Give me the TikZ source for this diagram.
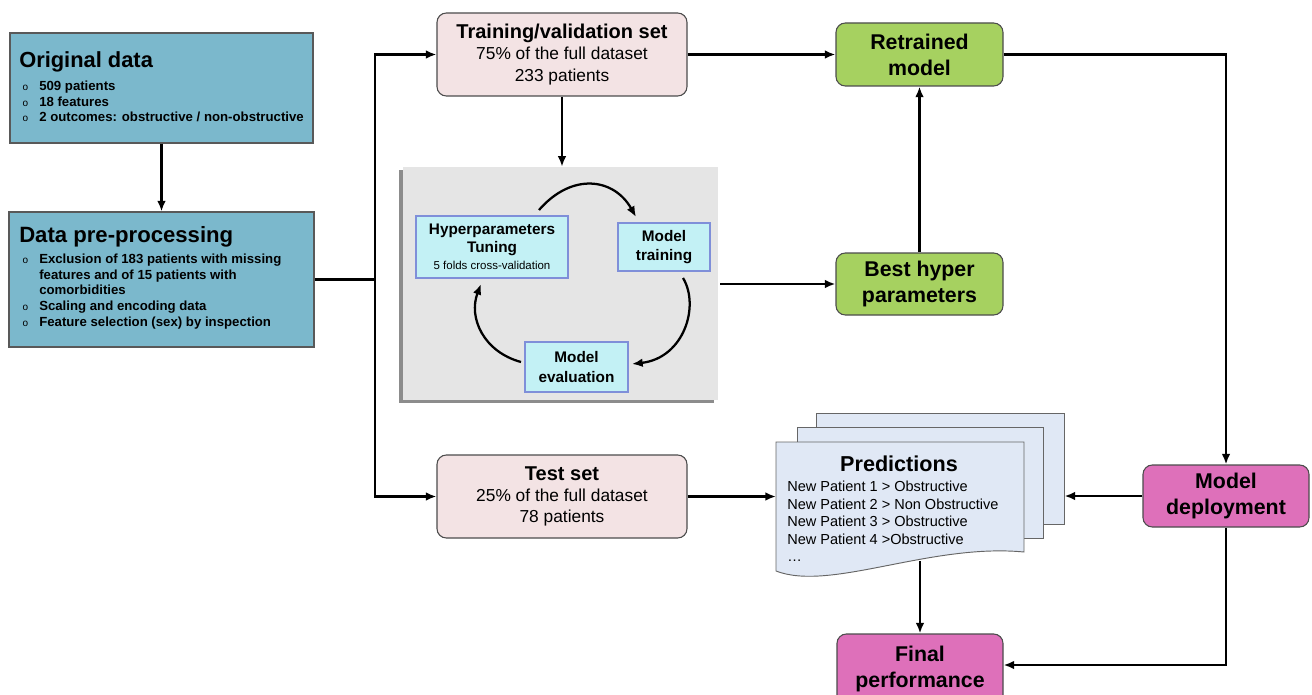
\documentclass[tikz,border=0pt]{standalone}
\usepackage{fontspec}
\setmainfont{Liberation Sans}
\usetikzlibrary{arrows.meta}
\definecolor{cOrig}{HTML}{7BB8CC}
\definecolor{cSet}{HTML}{F3E3E4}
\definecolor{cGreen}{HTML}{A6D160}
\definecolor{cPink}{HTML}{DE70BA}
\definecolor{cCyan}{HTML}{C3F1F5}
\definecolor{cCyanB}{HTML}{7F8FD9}
\definecolor{cPanel}{HTML}{E5E5E5}
\definecolor{cPred}{HTML}{E0E8F5}
\newcommand\bul{\makebox[15pt][l]{\hspace{2.5pt}{\mdseries\fontsize{7.5}{8}\selectfont o}}}
\tikzset{
  databox/.style={draw=black!65, line width=0.8pt, fill=cOrig, inner sep=0pt},
  setbox/.style={draw=black!70, line width=0.8pt, fill=cSet, rounded corners=7pt, align=center, inner sep=0pt,
    minimum width=187.5pt, minimum height=62.25pt, font=\fontsize{13}{16}\selectfont},
  greenbox/.style={draw=black!70, line width=0.8pt, fill=cGreen, rounded corners=7pt, align=center, inner sep=0pt,
    minimum width=125.25pt, font=\bfseries\fontsize{16}{19.5}\selectfont},
  pinkbox/.style={draw=black!70, line width=0.8pt, fill=cPink, rounded corners=7pt, align=center, inner sep=0pt,
    minimum width=124.5pt, font=\bfseries\fontsize{16}{20}\selectfont},
  cyanbox/.style={draw=cCyanB, line width=0.8pt, fill=cCyan, align=center, inner sep=0pt},
  sheet/.style={draw=black!60, line width=0.7pt, fill=cPred, inner sep=0pt},
  conn/.style={line width=1.7pt, -{Latex[length=8pt,width=6.5pt]}},
  plain/.style={line width=1.7pt},
}
\begin{document}
\begin{tikzpicture}[x=0.75pt,y=-0.75pt]
\useasboundingbox (0,0) rectangle (1312,695);
\fill[white] (0,0) rectangle (1312,695);

% left boxes
\node[databox, minimum width=227.25pt, minimum height=82.5pt] (orig) at (161.5,88) {};
\node[anchor=west, inner sep=0pt, font=\bfseries\fontsize{16.4}{18}\selectfont] (origT) at (19,62) {Original data};
\node[anchor=west, inner sep=0pt, align=left, font=\bfseries\fontsize{9.9}{11.7}\selectfont] (origL) at (19,101.5)
  {\bul 509 patients\\ \bul 18 features\\ \bul 2 outcomes: obstructive / non-obstructive};

\node[databox, minimum width=228.75pt, minimum height=101.25pt] (pre) at (161.5,279.5) {};
\node[anchor=west, inner sep=0pt, font=\bfseries\fontsize{16.6}{18}\selectfont] (preT) at (19,237) {Data pre-processing};
\node[anchor=west, inner sep=0pt, align=left, font=\bfseries\fontsize{9.9}{11.7}\selectfont] (preL) at (19,291.5)
  {\bul Exclusion of 183 patients with missing\\ \hspace{15pt}features and of 15 patients with\\ \hspace{15pt}comorbidities\\ \bul Scaling and encoding data\\ \bul Feature selection (sex) by inspection};

% sets
\node[setbox] (train) at (562,54.5) {{\bfseries\fontsize{15}{16}\selectfont Training/validation set}\\75\% of the full dataset\\233 patients};
\node[setbox] (test) at (562,496.5) {{\bfseries\fontsize{15}{16}\selectfont Test set}\\25\% of the full dataset\\78 patients};

% panel
\fill[black!45] (399,170) rectangle (714,403);
\node[fill=cPanel, minimum width=236.25pt, minimum height=174.75pt, inner sep=0pt] (panel) at (560.5,283.5) {};
\node[cyanbox, minimum width=114pt, minimum height=46.5pt, font=\fontsize{11.5}{13.5}\selectfont] (hyp) at (492,247)
  {{\bfseries Hyperparameters}\\{\bfseries Tuning}\\[-1pt]{\fontsize{8.6}{10}\selectfont 5 folds cross-validation}};
\node[cyanbox, minimum width=69pt, minimum height=36pt, font=\bfseries\fontsize{11.5}{14}\selectfont] (mtr) at (664,247) {Model\\training};
\node[cyanbox, minimum width=77.25pt, minimum height=37.5pt, font=\bfseries\fontsize{11.5}{15}\selectfont] (mev) at (576.5,367) {Model\\evaluation};

% cycle
\coordinate (c1a) at (539,210); \coordinate (c1b) at (636,217);
\coordinate (c2a) at (683,278); \coordinate (c2b) at (632,364);
\coordinate (c3a) at (521,362); \coordinate (c3b) at (481,284);
\draw[conn] (c1a) .. controls (572,172) and (614,178) .. (c1b);
\draw[conn] (c2a) .. controls (700,306) and (684,358) .. (c2b);
\draw[conn] (c3a) .. controls (484,352) and (468,318) .. (c3b);

% green
\node[greenbox, minimum height=47.25pt] (retr) at (919.5,54.5) {Retrained\\model};
\node[greenbox, minimum height=46.5pt] (best) at (919.5,284) {Best hyper\\parameters};

% pink
\node[pinkbox, minimum height=46.5pt] (deploy) at (1226,496) {Model\\deployment};
\node[pinkbox, minimum height=52.5pt] (final) at (920,669) {Final\\performance};

% predictions stack
\node[sheet, minimum width=186pt, minimum height=83.25pt] (sheet3) at (940,468.5) {};
\node[sheet, minimum width=184.5pt, minimum height=83.25pt] (sheet2) at (920,482.5) {};
\draw[sheet] (776,442) -- (1024,442) -- (1024,552) .. controls (930,543) and (830,592) .. (776,571) -- cycle;
\node[font=\bfseries\fontsize{16.2}{18}\selectfont, inner sep=0pt] (predT) at (899,464) {Predictions};
\node[anchor=west, align=left, inner sep=0pt, font=\fontsize{10.9}{13.2}\selectfont] (predL) at (787,521.5)
  {New Patient 1 > Obstructive\\New Patient 2 > Non Obstructive\\New Patient 3 > Obstructive\\New Patient 4 >Obstructive\\\dots};
\coordinate (predIn) at (776,496.5);
\coordinate (predB) at (920,561);

% connectors
\draw[conn] (orig) -- (pre);
\coordinate (split) at (375,279.5);
\draw[plain] (pre.east) -- (split);
\draw[conn] (split) |- (train.west);
\draw[conn] (split) |- (test.west);
\draw[conn] (train.south) -- (train.south |- panel.north);
\draw[conn] ([xshift=1.5pt]panel.east |- best.west) -- (best.west);
\draw[conn] (best) -- (retr);
\draw[conn] (train) -- (retr);
\draw[conn] (retr.east) -| (deploy.north);
\draw[conn] (deploy.west) -- (deploy.west -| sheet3.east);
\draw[conn] (test.east) -- (predIn);
\draw[conn] (deploy.south) |- ([yshift=3pt]final.east);
\draw[conn] (predB) -- (final.north);
\end{tikzpicture}
\end{document}
